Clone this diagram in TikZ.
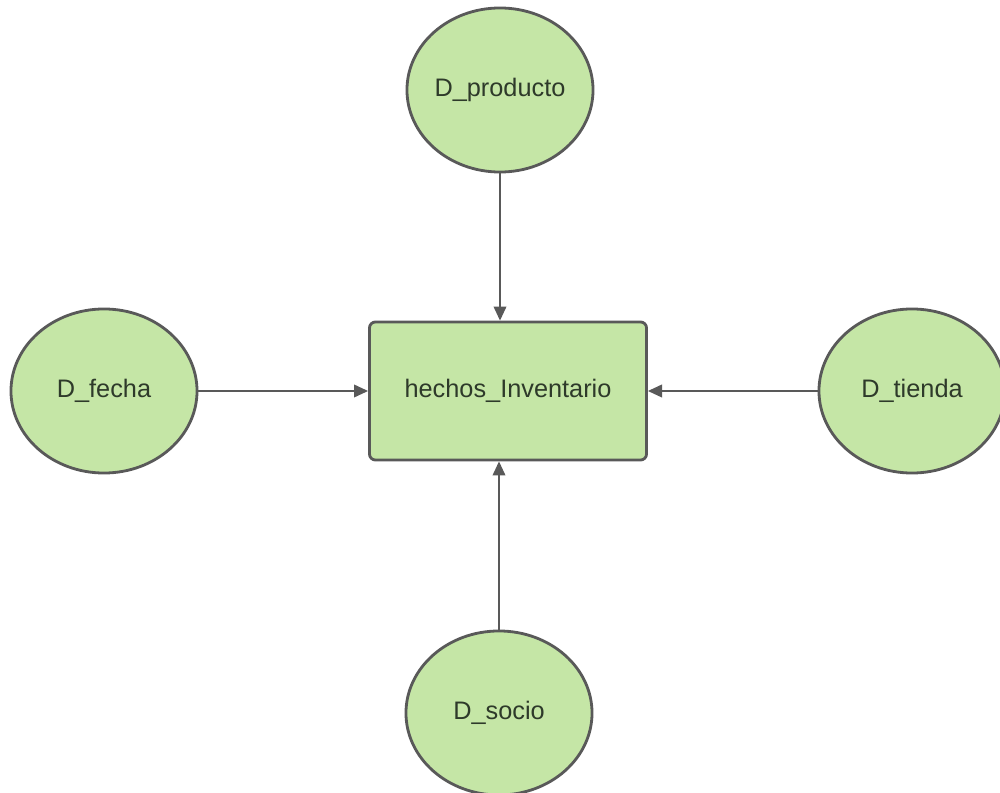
\documentclass[tikz,border=0pt]{standalone}
\usepackage{fontspec}
\setmainfont{Liberation Sans}
\usetikzlibrary{shapes.geometric,arrows.meta}
\definecolor{dimfill}{HTML}{C5E6A6}
\definecolor{dimline}{HTML}{595959}
\definecolor{dimtext}{HTML}{2E3A2A}
\begin{document}
\begin{tikzpicture}[x=0.025cm, y=-0.025cm,
	dim/.style={ellipse, draw=dimline, fill=dimfill, line width=2pt, minimum width=4.65cm, minimum height=4.1cm, inner sep=0pt, text=dimtext, font=\fontsize{18}{22}\selectfont},
	fact/.style={rectangle, rounded corners=0.15cm, draw=dimline, fill=dimfill, line width=2pt, minimum width=6.925cm, minimum height=3.45cm, inner sep=0pt, text=dimtext, font=\fontsize{18}{22}\selectfont},
	link/.style={-{Triangle[length=10pt, width=9pt]}, line width=1.2pt, draw=dimline}]
	
	\useasboundingbox (0,0) rectangle (1000,793);
	\fill [white] (0,0) rectangle (1000,793);
	
	\node [fact] (hechos) at (508,391) {hechos\_Inventario};
	
	\node [dim] (producto) at (500,90) {D\_producto};
	\node [dim] (fecha) at (104,391) {D\_fecha};
	\node [dim] (tienda) at (912,391) {D\_tienda};
	\node [dim] (socio) at (499,713) {D\_socio};
	
	\draw [link] (producto) -- (producto |- hechos.north);
	\draw [link] (fecha) -- (hechos);
	\draw [link] (tienda) -- (hechos);
	\draw [link] (socio) -- (socio |- hechos.south);
	
\end{tikzpicture}
\end{document}
